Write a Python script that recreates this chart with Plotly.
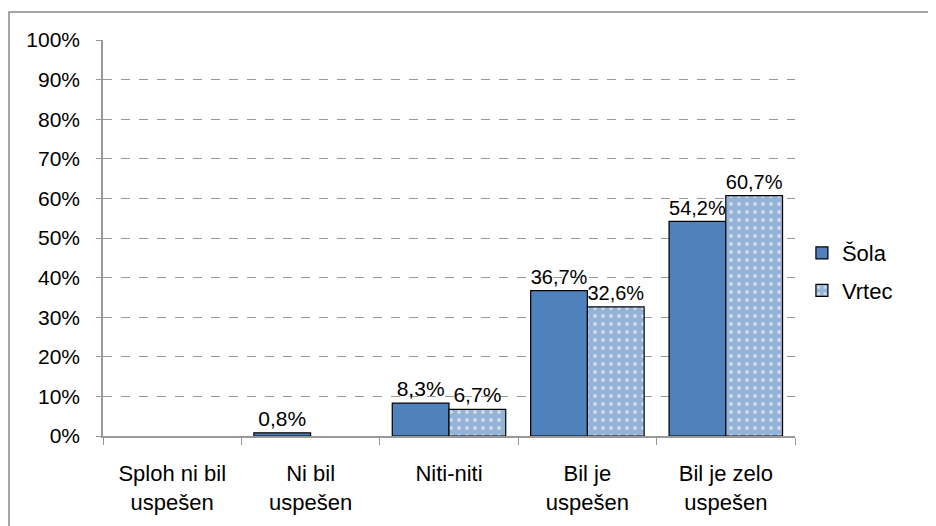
import plotly.graph_objects as go

categories = ['Sploh ni bil<br>uspešen', 'Ni bil<br>uspešen', 'Niti-niti',
              'Bil je<br>uspešen', 'Bil je zelo<br>uspešen']
sola = [0, 0.8, 8.3, 36.7, 54.2]
vrtec = [0, 0, 6.7, 32.6, 60.7]


def labels(vals):
    return [f'{v:.1f}%'.replace('.', ',') if v > 0 else '' for v in vals]


def bars(vals):
    # empty bars are not drawn at all
    return [v if v > 0 else None for v in vals]


fig = go.Figure()

fig.add_trace(go.Bar(
    x=categories, y=bars(sola), name='Šola', legendgroup='a',
    text=labels(sola), textposition='outside',
    marker=dict(color='#4f81bd', line=dict(color='black', width=1.2)),
))

fig.add_trace(go.Bar(
    x=categories, y=bars(vrtec), name='Vrtec', legendgroup='b',
    text=labels(vrtec), textposition='outside',
    marker=dict(color='#95b3d7', line=dict(color='black', width=1.2),
                pattern=dict(shape='.', fgcolor='white', bgcolor='#95b3d7',
                             size=8, solidity=0.22)),
))

fig.update_traces(textfont=dict(size=21, color='black'), cliponaxis=False)

fig.update_layout(
    width=928, height=518,
    margin=dict(l=95, r=141, t=32, b=90),
    paper_bgcolor='white', plot_bgcolor='white',
    font=dict(family='Liberation Sans', size=21, color='black'),
    barmode='group', bargap=0.18, bargroupgap=0,
    showlegend=True,
    legend=dict(x=1.01, y=0.414, yanchor='middle', xanchor='left',
                font=dict(size=22), tracegroupgap=6),
    shapes=[dict(type='rect', xref='paper', yref='paper',
                 x0=-94 / 692, x1=1.3, y0=-0.4, y1=1 + 28 / 396,
                 line=dict(color='#888888', width=1.5))],
)

fig.update_yaxes(
    range=[0, 100], dtick=10, ticksuffix='%',
    showgrid=True, gridcolor='#999999', griddash='dash', gridwidth=1,
    showline=True, linecolor='#999999', linewidth=1.5,
    ticks='outside', ticklen=5, tickcolor='#999999', ticklabelstandoff=12,
    zeroline=False,
)

fig.update_xaxes(
    showline=True, linecolor='#999999', linewidth=1.5,
    ticks='outside', ticklen=7, tickcolor='#999999', tickson='boundaries',
    tickangle=0, tickfont=dict(size=22), ticklabelstandoff=17,
)

fig.write_html('out.html')
